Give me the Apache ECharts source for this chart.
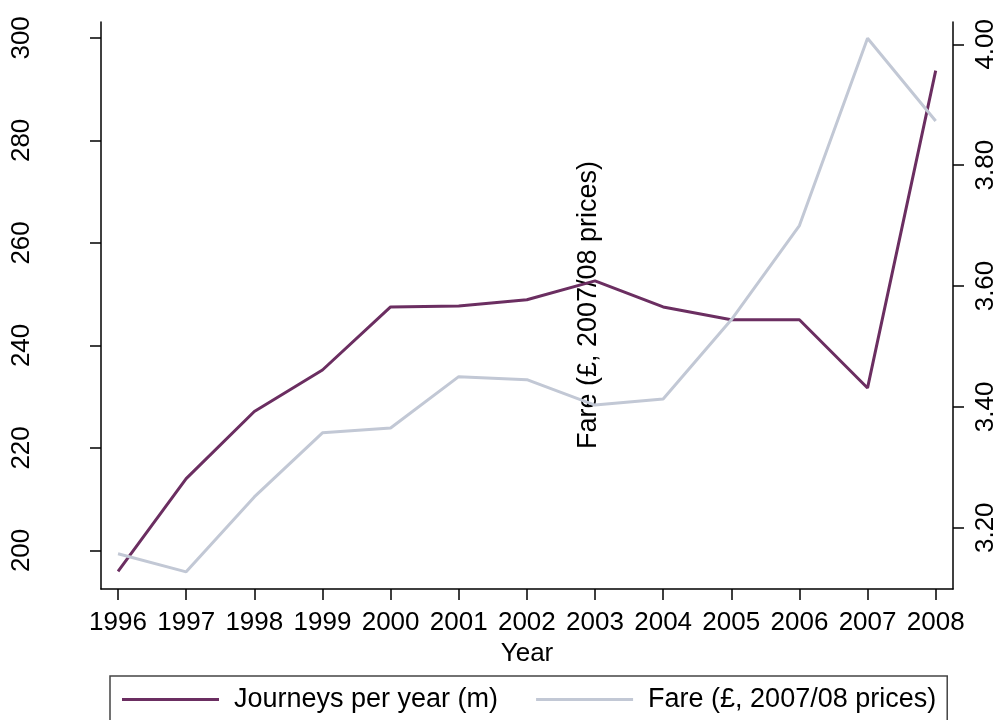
<!DOCTYPE html>
<html>
<head>
<meta charset="utf-8">
<script src="https://cdn.jsdelivr.net/npm/echarts@6/dist/echarts.min.js"></script>
<style>
  html, body { margin: 0; padding: 0; background: #fff; }
  #chart { width: 998px; height: 720px; }
</style>
</head>
<body>
<div id="chart"></div>
<script>
// Years on the horizontal axis
const years = [1996, 1997, 1998, 1999, 2000, 2001, 2002, 2003, 2004, 2005, 2006, 2007, 2008];

// Journeys per year, millions (left axis)
const journeys = [195.9, 214.0, 227.1, 235.2, 247.5, 247.7, 248.9, 252.6, 247.5, 245.0, 245.0, 231.7, 293.6];

// Average fare, £ at 2007/08 prices (right axis)
const fares = [3.157, 3.127, 3.251, 3.357, 3.365, 3.450, 3.445, 3.403, 3.413, 3.544, 3.700, 4.010, 3.873];

// Tick labels
const leftTicks = [200, 220, 240, 260, 280, 300];
const rightTicks = [3.2, 3.4, 3.6, 3.8, 4.0];

const journeysName = 'Journeys per year (m)';
const faresName = 'Fare (£, 2007/08 prices)';

const FONT = '"Liberation Sans", Arial, sans-serif';
const AXIS_COLOR = '#000';

const chart = echarts.init(document.getElementById('chart'), null, { renderer: 'canvas' });

const axisCommon = {
  axisLine: { show: true, lineStyle: { color: AXIS_COLOR, width: 1.5 } },
  axisTick: { show: true, inside: false, length: 11, lineStyle: { color: AXIS_COLOR, width: 1.5 } },
  splitLine: { show: false }
};

chart.setOption({
  animation: false,
  backgroundColor: '#fff',
  textStyle: { fontFamily: FONT },
  grid: { left: 101, right: 45, top: 22, bottom: 131, containLabel: false, outerBoundsMode: 'none' },
  xAxis: {
    type: 'value',
    min: 1995.75,
    max: 2008.254,
    name: 'Year',
    nameLocation: 'middle',
    nameGap: 44,
    nameTextStyle: { color: '#000', fontSize: 26, fontFamily: FONT },
    ...axisCommon,
    axisTick: { ...axisCommon.axisTick, customValues: years },
    axisLabel: {
      customValues: years,
      color: '#000',
      fontSize: 26,
      fontFamily: FONT,
      margin: 21,
      formatter: v => String(v)
    }
  },
  yAxis: [
    {
      type: 'value',
      position: 'left',
      min: 192.47,
      max: 303.1,
      ...axisCommon,
      axisTick: { ...axisCommon.axisTick, customValues: leftTicks },
      axisLabel: {
        customValues: leftTicks,
        rotate: 90,
        color: '#000',
        fontSize: 26,
        fontFamily: FONT,
        margin: 66,
        formatter: v => String(v)
      }
    },
    {
      type: 'value',
      position: 'right',
      min: 3.0986,
      max: 4.0369,
      ...axisCommon,
      axisTick: { ...axisCommon.axisTick, customValues: rightTicks },
      axisLabel: {
        customValues: rightTicks,
        rotate: 90,
        color: '#000',
        fontSize: 26,
        fontFamily: FONT,
        margin: 20,
        formatter: v => Number(v).toFixed(2)
      }
    }
  ],
  legend: {
    left: 110,
    top: 676,
    orient: 'horizontal',
    padding: [10, 11, 12, 12],
    itemWidth: 97,
    itemHeight: 14,
    itemGap: 38,
    borderColor: '#444',
    borderWidth: 1.5,
    borderRadius: 0,
    textStyle: { color: '#000', fontSize: 27, fontFamily: FONT, padding: [0, 0, 0, 10] },
    data: [
      { name: journeysName, icon: 'path://M0,6 L97,6 L97,9 L0,9 Z' },
      { name: faresName, icon: 'path://M0,6 L97,6 L97,9 L0,9 Z' }
    ]
  },
  series: [
    {
      name: journeysName,
      type: 'line',
      yAxisIndex: 0,
      symbol: 'none',
      color: '#6b2e61',
      lineStyle: { color: '#6b2e61', width: 3 },
      data: years.map((y, i) => [y, journeys[i]])
    },
    {
      name: faresName,
      type: 'line',
      yAxisIndex: 1,
      symbol: 'none',
      color: '#c2c8d5',
      lineStyle: { color: '#c2c8d5', width: 3 },
      data: years.map((y, i) => [y, fares[i]])
    }
  ],
  graphic: [
    {
      type: 'text',
      x: 589,
      y: 305,
      rotation: Math.PI / 2,
      style: {
        text: faresName,
        fill: '#000',
        font: '27px ' + FONT,
        textAlign: 'center',
        textVerticalAlign: 'middle'
      }
    }
  ]
});
</script>
</body>
</html>
